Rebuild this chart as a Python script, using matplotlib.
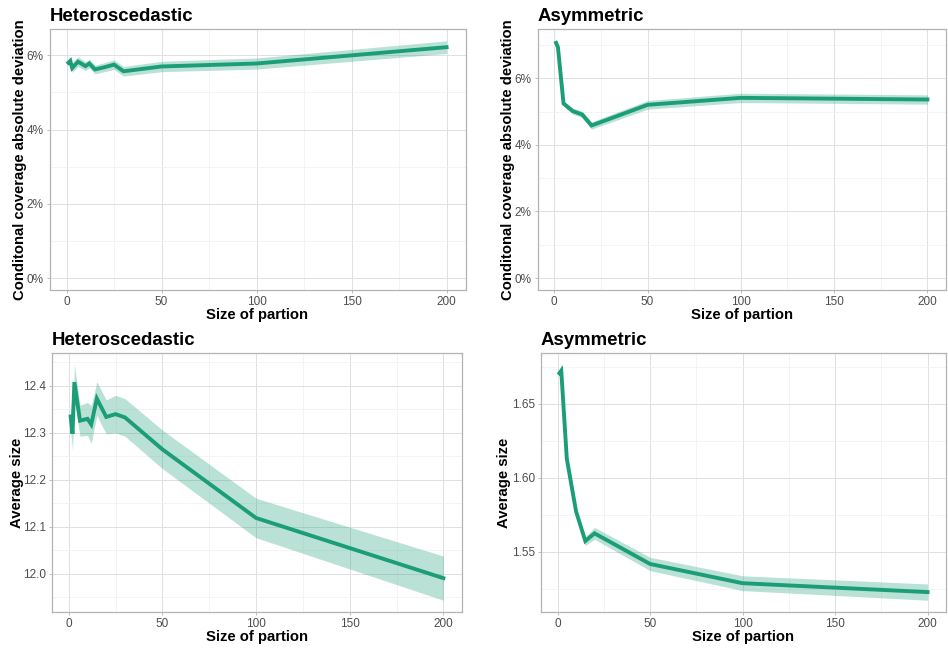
import matplotlib
matplotlib.use("Agg")
import matplotlib.pyplot as plt
import numpy as np
from matplotlib.ticker import FuncFormatter, MultipleLocator

plt.rcParams['font.family'] = ['Liberation Sans', 'DejaVu Sans']

# heteroscedastic setting
het_x = [1, 2, 3, 6, 10, 12, 15, 20, 25, 30, 50, 100, 200]
het_dev = [5.80, 5.85, 5.66, 5.83, 5.71, 5.78, 5.62, 5.68, 5.75, 5.57, 5.70, 5.78, 6.22]      # %
het_dev_se = [0.10, 0.12, 0.12, 0.13, 0.12, 0.12, 0.12, 0.12, 0.13, 0.13, 0.14, 0.15, 0.17]
het_size = [12.335, 12.298, 12.408, 12.326, 12.330, 12.318, 12.373, 12.334, 12.340, 12.333, 12.265, 12.119, 11.991]
het_size_se = [0.030, 0.035, 0.037, 0.033, 0.035, 0.040, 0.036, 0.036, 0.040, 0.040, 0.041, 0.042, 0.047]

# asymmetric setting
asy_x = [1, 2, 5, 10, 15, 20, 50, 100, 200]
asy_dev = [7.06, 6.93, 5.24, 5.01, 4.91, 4.58, 5.20, 5.41, 5.36]      # %
asy_dev_se = [0.06, 0.08, 0.08, 0.09, 0.10, 0.11, 0.13, 0.14, 0.14]
asy_size = [1.6707, 1.6724, 1.6129, 1.5773, 1.5573, 1.5625, 1.5418, 1.5288, 1.5228]
asy_size_se = [0.002, 0.004, 0.002, 0.002, 0.003, 0.004, 0.0045, 0.005, 0.0055]

col = '#1B9E77'
W, H = 948, 652

fig = plt.figure(figsize=(W / 100, H / 100), dpi=100)


def add_panel(l, r, t, b):
    return fig.add_axes([l / W, (H - b) / H, (r - l) / W, (b - t) / H])


def draw(ax, x, y, se, title, ylabel, yticks, yfmt, ymin0=False, yminor=None, ypad=0):
    x = np.array(x)
    y = np.array(y)
    se = np.array(se)
    lo, hi = y - se, y + se
    ax.fill_between(x, lo, hi, color=col, alpha=0.3, linewidth=0, zorder=2)
    ax.plot(x, y, color=col, lw=2.8, solid_joinstyle='miter', zorder=3)

    a = 0 if ymin0 else lo.min()
    b = hi.max()
    pad = 0.05 * (b - a)
    ax.set_ylim(a - pad, b + pad)
    ax.set_xlim(1 - 0.05 * 199, 200 + 0.05 * 199)

    ax.set_xticks([0, 50, 100, 150, 200])
    ax.xaxis.set_minor_locator(MultipleLocator(25))
    ax.set_yticks(yticks)
    ax.set_yticks(yminor, minor=True)
    ax.yaxis.set_major_formatter(FuncFormatter(yfmt))

    ax.grid(True, which='major', color='#E0E0E0', lw=0.7, zorder=0)
    ax.grid(True, which='minor', color='#F0F0F0', lw=0.5, zorder=0)
    ax.set_axisbelow(True)
    for s in ax.spines.values():
        s.set_color('#B3B3B3')
        s.set_linewidth(0.9)
    ax.tick_params(which='major', length=2.5, width=0.6, color='#B3B3B3',
                   labelcolor='#4D4D4D', labelsize=8.5, pad=2)
    ax.tick_params(which='minor', length=0)

    ax.set_title(title, loc='left', fontsize=13.4, fontweight='bold', pad=6)
    ax.set_xlabel('Size of partion', fontsize=10.7, fontweight='bold', labelpad=0)
    ax.set_ylabel(ylabel, fontsize=10.7, fontweight='bold', labelpad=ypad)


pct = lambda v, p: '%d%%' % round(v)

ax1 = add_panel(49.5, 465.5, 29, 290)
draw(ax1, het_x, het_dev, het_dev_se, 'Heteroscedastic',
     'Conditonal coverage absolute deviation', [0, 2, 4, 6], pct, ymin0=True,
     yminor=[1, 3, 5], ypad=-0.4)

ax2 = add_panel(537.5, 946, 29, 290)
draw(ax2, asy_x, asy_dev, asy_dev_se, 'Asymmetric',
     'Conditonal coverage absolute deviation', [0, 2, 4, 6], pct, ymin0=True,
     yminor=[1, 3, 5, 7], ypad=-0.4)

ax3 = add_panel(52, 462, 353, 612)
draw(ax3, het_x, het_size, het_size_se, 'Heteroscedastic', 'Average size',
     [12.0, 12.1, 12.2, 12.3, 12.4], lambda v, p: '%.1f' % v,
     yminor=[11.95, 12.05, 12.15, 12.25, 12.35, 12.45], ypad=-1.2)

ax4 = add_panel(541, 946, 353, 612)
draw(ax4, asy_x, asy_size, asy_size_se, 'Asymmetric', 'Average size',
     [1.55, 1.60, 1.65], lambda v, p: '%.2f' % v,
     yminor=[1.525, 1.575, 1.625, 1.675], ypad=0.8)

plt.savefig('out.png', dpi=100)
